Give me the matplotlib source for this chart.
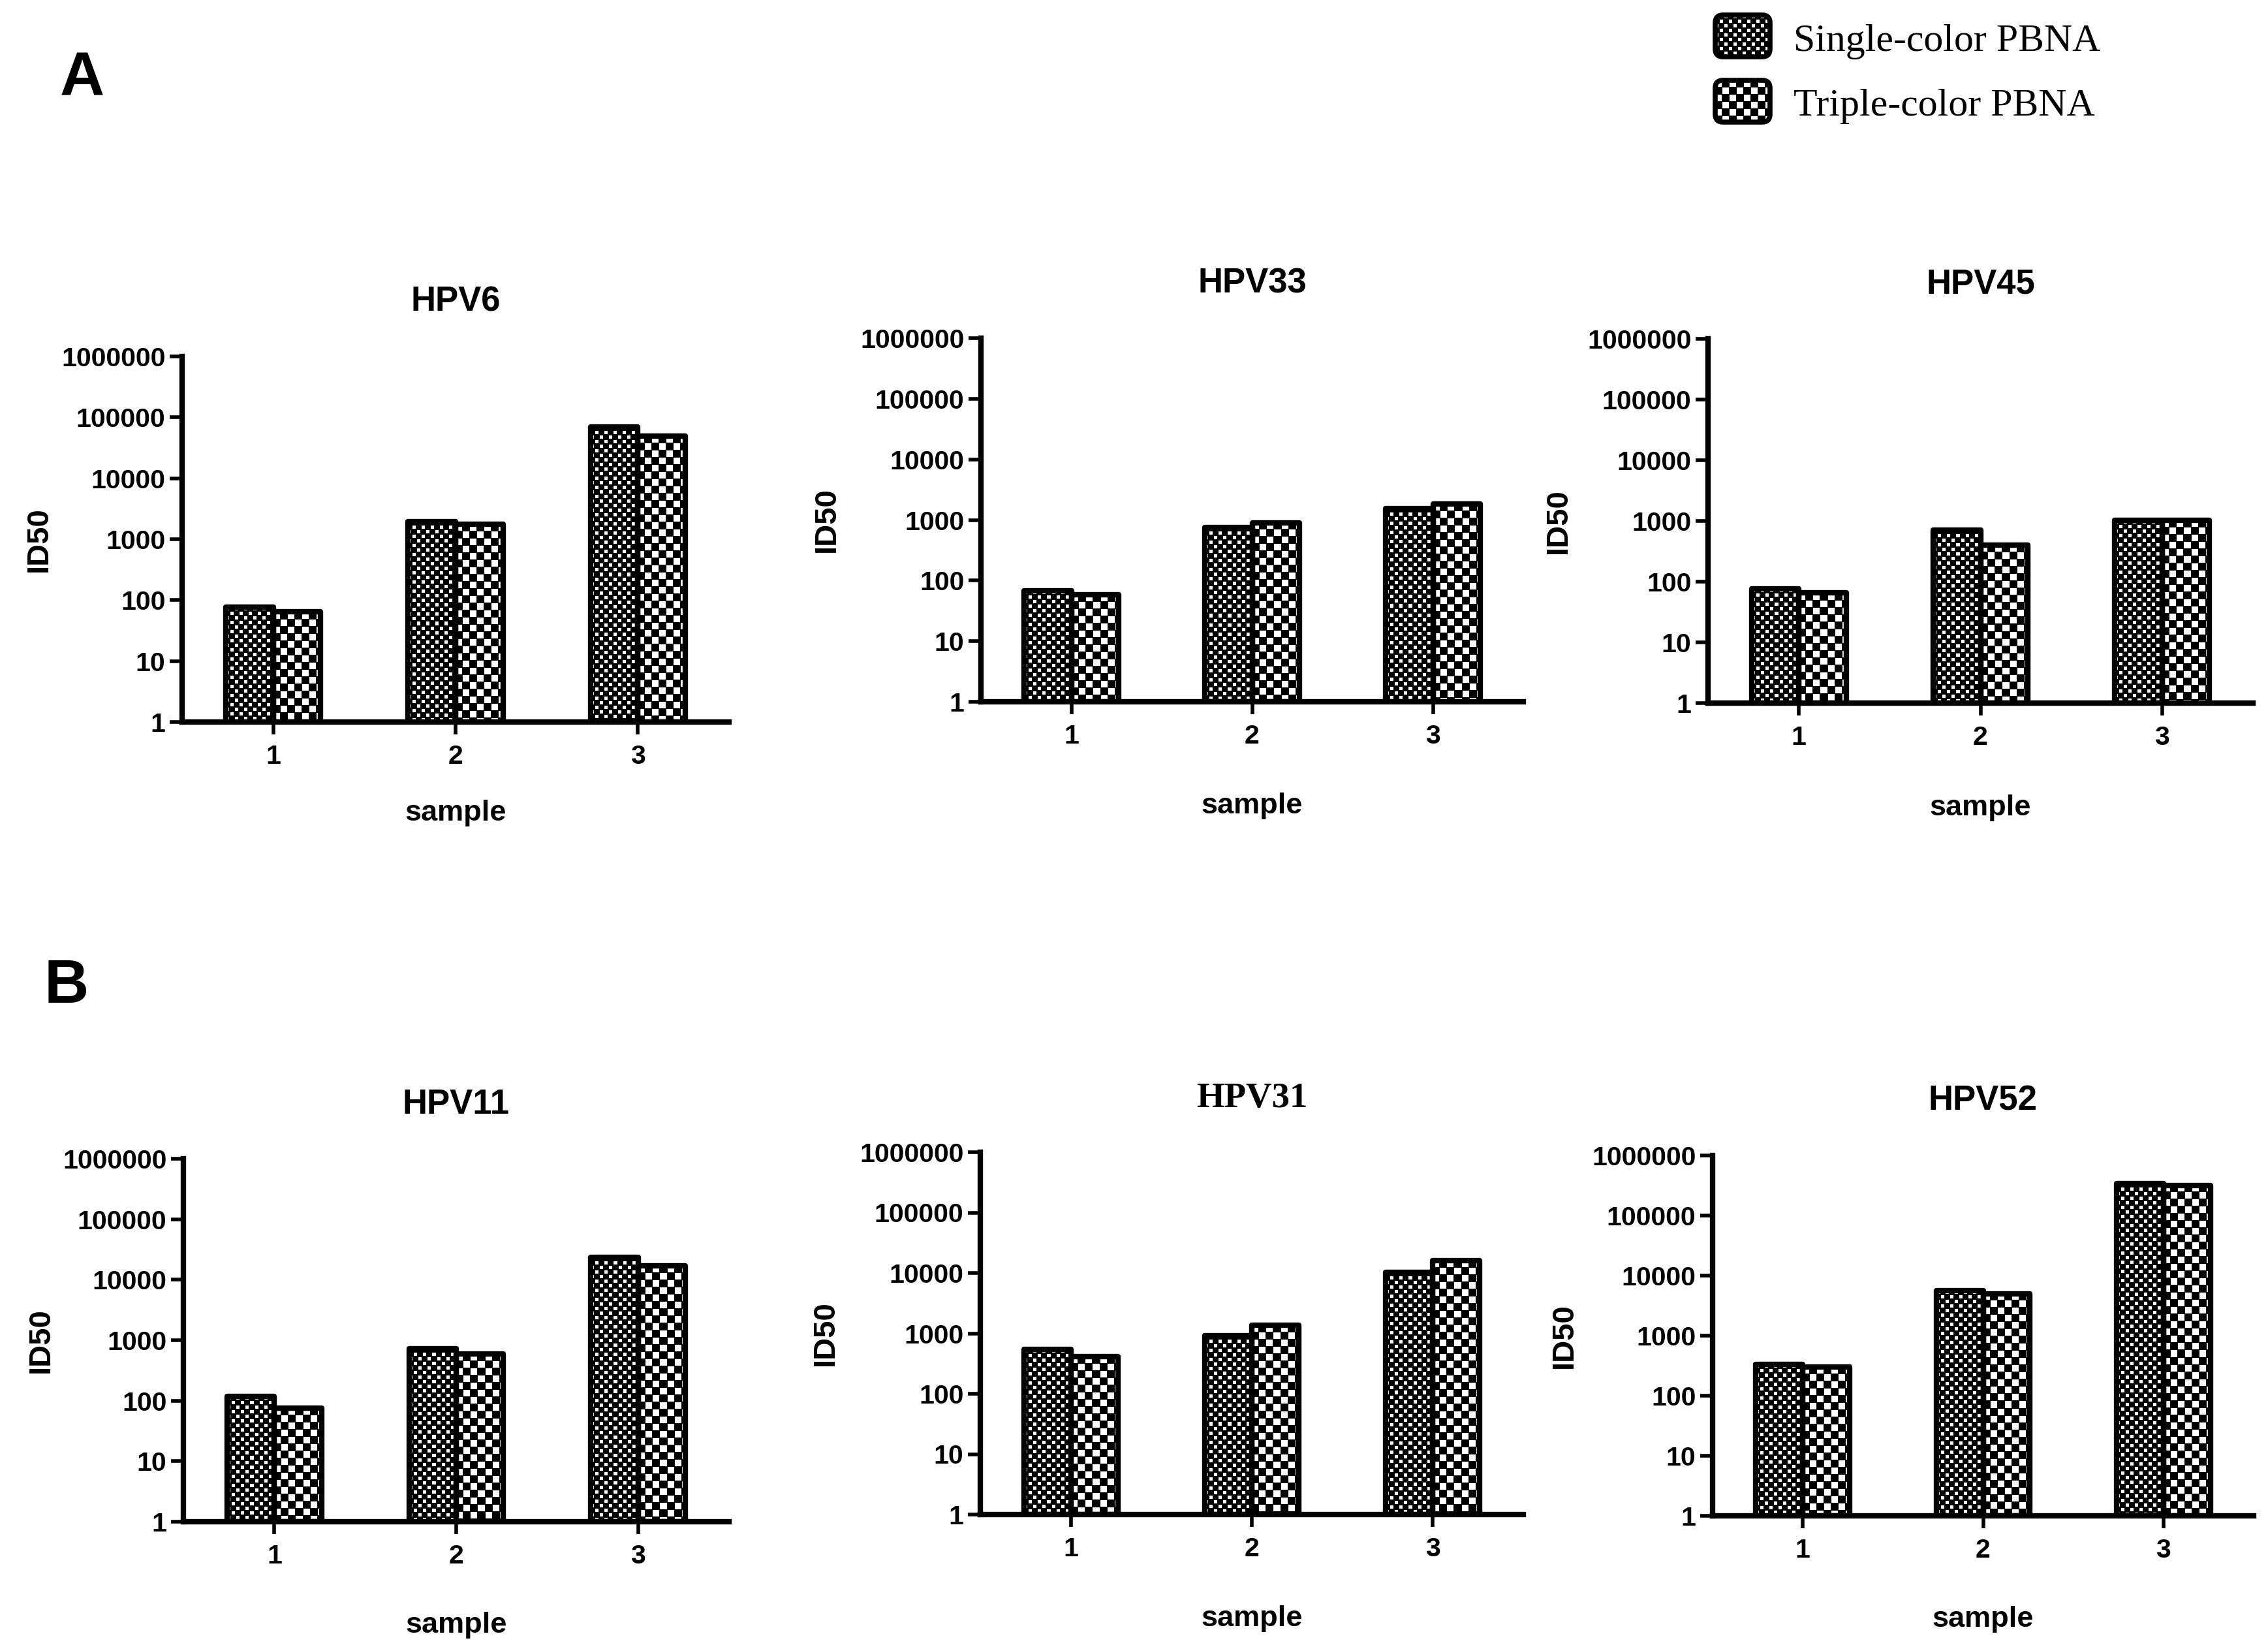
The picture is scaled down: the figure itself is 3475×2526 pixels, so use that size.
import numpy as np
import matplotlib
matplotlib.use('Agg')
import matplotlib.pyplot as plt
from matplotlib.image import BboxImage
from matplotlib.transforms import Bbox, TransformedBbox
from matplotlib.patches import FancyBboxPatch
from matplotlib.colors import Normalize
from matplotlib.ticker import NullLocator

plt.rcParams['font.family'] = ['Liberation Sans', 'DejaVu Sans']
plt.rcParams['font.weight'] = 'bold'

W, H, DPI = 3475, 2526, 100

# data (ID50)
samples = [1, 2, 3]
sample_labels = ['1', '2', '3']
ytick_vals = [1, 10, 100, 1000, 10000, 100000, 1000000]
ytick_labels = ['1', '10', '100', '1000', '10000', '100000', '1000000']
series_names = ['Single-color PBNA', 'Triple-color PBNA']

hpv6_single = [76, 1950, 70000]
hpv6_triple = [63, 1750, 49000]
hpv33_single = [67, 760, 1550]
hpv33_triple = [58, 900, 1820]
hpv45_single = [76, 710, 1020]
hpv45_triple = [64, 395, 1020]
hpv11_single = [116, 725, 23500]
hpv11_triple = [75, 590, 16800]
hpv31_single = [540, 920, 10300]
hpv31_triple = [410, 1360, 16000]
hpv52_single = [330, 5600, 345000]
hpv52_triple = [298, 5000, 318000]

# pixel boxes of the six plot areas (left, top, right, bottom),
# plus ylabel x / xlabel y in axes fractions
panels = [
    ('HPV6', hpv6_single, hpv6_triple, (279, 546, 1117, 1106), -0.235, -0.213),
    ('HPV33', hpv33_single, hpv33_triple, (1503, 518, 2334, 1075), -0.258, -0.250),
    ('HPV45', hpv45_single, hpv45_triple, (2617, 519, 3452, 1077), -0.248, -0.250),
    ('HPV11', hpv11_single, hpv11_triple, (281, 1775, 1117, 2331), -0.235, -0.248),
    ('HPV31', hpv31_single, hpv31_triple, (1502, 1765, 2334, 2320), -0.258, -0.250),
    ('HPV52', hpv52_single, hpv52_triple, (2624, 1770, 3453, 2322), -0.248, -0.250),
]

# checker cell size and how much the white squares are shrunk
FINE = (7, 2)
COARSE = (11, 1)


def checker(h, w, pat):
    c, shrink = pat
    yy, xx = np.mgrid[0:h, 0:w]
    white = (((yy // c) + (xx // c)) % 2 == 0) & (yy % c < c - shrink) & (xx % c < c - shrink)
    return white.astype(float)


def add_pattern(parent, bbox, trans, pat, clip=None, zorder=2):
    disp = TransformedBbox(bbox, trans)
    p0 = trans.transform((bbox.x0, bbox.y0))
    p1 = trans.transform((bbox.x1, bbox.y1))
    w = max(int(round(abs(p1[0] - p0[0]))), 1)
    h = max(int(round(abs(p1[1] - p0[1]))), 1)
    im = BboxImage(disp, cmap='gray', norm=Normalize(0, 1),
                   interpolation='nearest', zorder=zorder)
    im.set_data(checker(h, w, pat))
    parent.add_artist(im)
    if clip is not None:
        im.set_clip_path(clip)
    return im


fig = plt.figure(figsize=(W / DPI, H / DPI), dpi=DPI)

bw = 0.26
for name, s_vals, t_vals, (l, t, r, b), ylab_x, xlab_y in panels:
    ax = fig.add_axes([l / W, 1 - b / H, (r - l) / W, (b - t) / H])
    ax.set_yscale('log')
    ax.set_ylim(1, 1e6)
    ax.set_xlim(0.5, 3.5)
    x = np.array(samples, dtype=float)

    for vals, off, pat in [(s_vals, -bw / 2, FINE), (t_vals, bw / 2, COARSE)]:
        bars = ax.bar(x + off, vals, bw, bottom=1, facecolor='none',
                      edgecolor='black', linewidth=6, zorder=3, joinstyle='round')
        for rect, v in zip(bars, vals):
            x0 = rect.get_x()
            add_pattern(ax, Bbox([[x0, 1], [x0 + rect.get_width(), v]]),
                        ax.transData, pat)

    ax.set_yticks(ytick_vals, ytick_labels)
    ax.yaxis.set_minor_locator(NullLocator())
    ax.set_xticks(samples, sample_labels)
    for sp in ['top', 'right']:
        ax.spines[sp].set_visible(False)
    for sp in ['left', 'bottom']:
        ax.spines[sp].set_linewidth(6)
        ax.spines[sp].set_zorder(4)
    ax.tick_params(axis='both', length=13.5, width=4, labelsize=29.5)
    ax.tick_params(axis='y', pad=5)
    ax.tick_params(axis='x', pad=11)

    if name == 'HPV31':
        ax.set_title(name, fontsize=39.5, fontweight='bold', pad=50,
                     family='Liberation Serif')
    else:
        ax.set_title(name, fontsize=38, fontweight='bold', pad=50)
    ax.set_ylabel('ID50', fontsize=34, fontweight='bold')
    ax.yaxis.set_label_coords(ylab_x, 0.5)
    ax.set_xlabel('sample', fontsize=32.5, fontweight='bold')
    ax.xaxis.set_label_coords(0.5, xlab_y)

# panel letters
fig.text(92 / W, 1 - 147 / H, 'A', fontsize=68, fontweight='bold', va='baseline')
fig.text(68 / W, 1 - 1536 / H, 'B', fontsize=68, fontweight='bold', va='baseline')

# legend
leg_boxes = [(2628, 23, 2712, 87), (2628, 123, 2712, 187)]
leg_baselines = [78, 177]
for name, (bl, bt, br, bb), base, pat in zip(series_names, leg_boxes, leg_baselines,
                                           [FINE, COARSE]):
    x0, x1 = bl / DPI, br / DPI
    y0, y1 = (H - bb) / DPI, (H - bt) / DPI
    box = FancyBboxPatch((x0, y0), x1 - x0, y1 - y0,
                         boxstyle='round,pad=0,rounding_size=0.12',
                         facecolor='none', edgecolor='black', linewidth=5.5,
                         transform=fig.dpi_scale_trans, zorder=3)
    fig.add_artist(box)
    add_pattern(fig, Bbox([[x0, y0], [x1, y1]]), fig.dpi_scale_trans, pat,
                clip=box, zorder=2)
    fig.text(2748 / W, 1 - base / H, name, fontsize=43, fontweight='normal',
             family='Liberation Serif', va='baseline')

fig.savefig('out.png', dpi=DPI)
